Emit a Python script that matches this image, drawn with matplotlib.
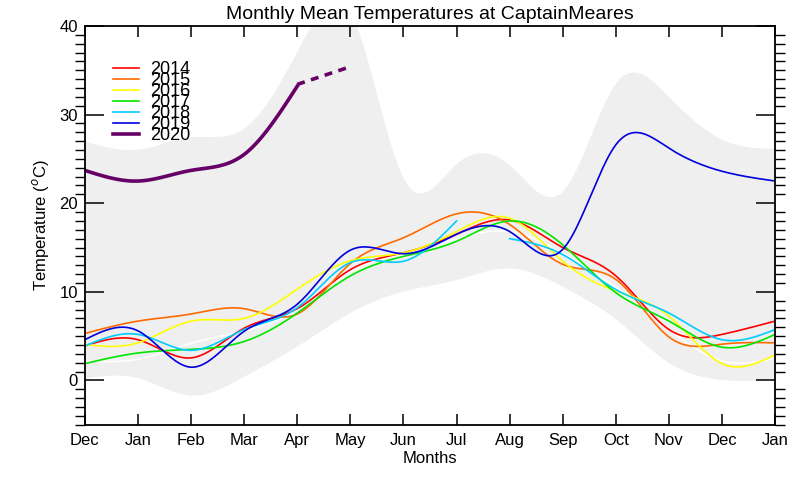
import numpy as np
import matplotlib
matplotlib.use("Agg")
import matplotlib.pyplot as plt
from matplotlib.ticker import MultipleLocator

plt.rcParams['font.family'] = ['Liberation Sans', 'DejaVu Sans']

months = ['Dec', 'Jan', 'Feb', 'Mar', 'Apr', 'May', 'Jun', 'Jul',
          'Aug', 'Sep', 'Oct', 'Nov', 'Dec', 'Jan']

# climatology envelope and mean, one value per month tick
clim_max = [27.0, 26.1, 27.5, 28.5, 37.2, 41.5, 22.8, 24.5, 24.3, 21.4, 33.6, 32.0, 27.2, 26.2]
clim_min = [0.3, 0.3, -1.65, 0.5, 3.9, 7.7, 10.1, 11.4, 12.7, 10.6, 6.9, 2.0, 0.1, 0.1]
clim_mean = [2.2, 2.4, 4.2, 5.6, 8.0, 12.3, 14.3, 16.0, 16.8, 14.3, 10.5, 5.8, 2.2, 2.5]

t2014 = [3.9, 4.6, 2.55, 5.9, 8.1, 12.5, 14.4, 16.5, 18.1, 15.0, 11.8, 5.75, 5.2, 6.7]
t2015 = [5.3, 6.7, 7.5, 8.1, 7.5, 13.2, 16.1, 18.8, 17.6, 13.1, 11.4, 4.9, 4.1, 4.25]
t2016 = [4.05, 4.25, 6.7, 7.0, 10.3, 13.5, 14.4, 16.8, 18.3, 13.45, 10.1, 7.25, 1.9, 2.9]
t2017 = [1.9, 3.1, 3.5, 4.4, 7.6, 11.8, 14.0, 15.7, 18.0, 15.3, 9.9, 6.7, 3.75, 5.2]
t2018 = [3.9, 5.2, 3.4, 5.75, 8.2, 13.3, 13.45, 18.0, np.nan, 14.2, 10.25, 7.6, 4.6, 5.75]
t2018_aug = 16.0
t2019 = [4.6, 5.6, 1.5, 5.55, 8.6, 14.7, 14.3, 16.5, 16.8, 14.8, 26.6, 26.2, 23.6, 22.5]
t2020 = [23.7, 22.5, 23.7, 25.5, 33.2]
t2020_fcst = [33.4, 35.4]


def spline(x, y, n=24):
    # natural cubic spline through monthly points
    x = np.asarray(x, float)
    y = np.asarray(y, float)
    k = len(x)
    h = np.diff(x)
    A = np.zeros((k, k))
    b = np.zeros(k)
    A[0, 0] = A[-1, -1] = 1
    for i in range(1, k - 1):
        A[i, i - 1] = h[i - 1]
        A[i, i] = 2 * (h[i - 1] + h[i])
        A[i, i + 1] = h[i]
        b[i] = 3 * ((y[i + 1] - y[i]) / h[i] - (y[i] - y[i - 1]) / h[i - 1])
    c = np.linalg.solve(A, b)
    xs = np.linspace(x[0], x[-1], n * (k - 1) + 1)
    idx = np.clip(np.searchsorted(x, xs, side='right') - 1, 0, k - 2)
    dx = xs - x[idx]
    bb = (y[idx + 1] - y[idx]) / h[idx] - h[idx] * (2 * c[idx] + c[idx + 1]) / 3
    dd = (c[idx + 1] - c[idx]) / (3 * h[idx])
    return xs, y[idx] + bb * dx + c[idx] * dx ** 2 + dd * dx ** 3


x = np.arange(len(months))

fig, ax = plt.subplots(figsize=(8, 4.8), dpi=100)
fig.subplots_adjust(left=0.106, right=0.969, bottom=0.115, top=0.946)

xs, up = spline(x, clim_max)
_, lo = spline(x, clim_min)
ax.fill_between(xs, lo, up, color='#efefef', lw=0)
ax.plot(*spline(x, clim_mean), color='white', lw=1.2)

series = [('2014', t2014, '#ff0000'), ('2015', t2015, '#ff6a00'),
          ('2016', t2016, '#ffff00'), ('2017', t2017, '#00e600'),
          ('2018', t2018, '#00ccff'), ('2019', t2019, '#0000dd')]
for name, vals, col in series:
    vals = np.asarray(vals, float)
    if name == '2018':
        ax.plot(*spline(x[:8], vals[:8]), color=col, lw=1.2, label=name)
        seg = np.concatenate([[t2018_aug], vals[9:]])
        ax.plot(*spline(x[8:], seg), color=col, lw=1.2)
    else:
        ax.plot(*spline(x, vals), color=col, lw=1.2, label=name)

ax.plot(*spline(x[:len(t2020)], t2020), color='#660066', lw=2.6, label='2020')
ax.plot(x[4:6], t2020_fcst, color='#660066', lw=2.6, ls=(0, (2.2, 1.8)))

ax.set_xlim(0, 13)
ax.set_ylim(-5, 40)
ax.set_xticks(x)
ax.set_xticklabels(months)
ax.set_yticks([0, 10, 20, 30, 40])
ax.yaxis.set_minor_locator(MultipleLocator(1))
ax.tick_params(axis='both', direction='in', labelsize=12, width=1.1)
ax.tick_params(axis='x', length=8, top=True, pad=6)
ax.tick_params(axis='y', which='major', length=14, right=True, pad=5)
ax.tick_params(axis='y', which='minor', length=7, right=True, width=1.0)
for s in ax.spines.values():
    s.set_linewidth(1.3)

ax.set_xlabel('Months', fontsize=12, labelpad=2)
ax.set_ylabel('Temperature ($^o$C)', fontsize=12, labelpad=6)
ax.set_title('Monthly Mean Temperatures at CaptainMeares', fontsize=14, pad=5)

ax.legend(loc='upper left', bbox_to_anchor=(0.03, 0.93), frameon=False,
          fontsize=13, labelspacing=-0.33, handlelength=1.45, handletextpad=0.6,
          borderaxespad=0)

fig.savefig('out.png', dpi=100)
